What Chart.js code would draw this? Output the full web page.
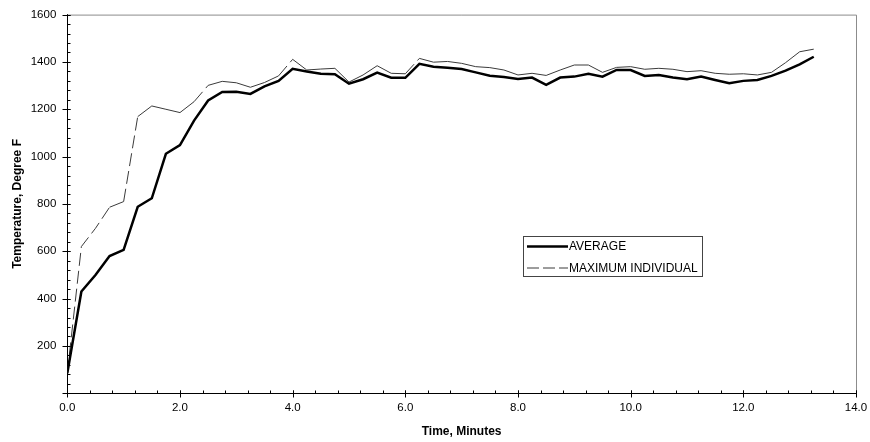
<!DOCTYPE html>
<html lang="en">
<head>
<meta charset="UTF-8">
<title>Temperature vs Time</title>
<script src="https://cdn.jsdelivr.net/npm/chart.js@4.4.1/dist/chart.umd.min.js"></script>
<style>
  html, body { margin: 0; padding: 0; background: #fff; }
  .wrap { width: 870px; height: 442px; position: relative; }
</style>
</head>
<body>
<div class="wrap"><canvas id="tempChart"></canvas></div>
<script>
//#region Data
const tempos = [0, 0.25, 0.5, 0.75, 1, 1.25, 1.5, 1.75, 2, 2.25, 2.5, 2.75, 3, 3.25, 3.5, 3.75,
  4, 4.25, 4.5, 4.75, 5, 5.25, 5.5, 5.75, 6, 6.25, 6.5, 6.75, 7, 7.25, 7.5, 7.75,
  8, 8.25, 8.5, 8.75, 9, 9.25, 9.5, 9.75, 10, 10.25, 10.5, 10.75, 11, 11.25, 11.5, 11.75,
  12, 12.25, 12.5, 12.75, 13, 13.25];

const media = [85, 430, 500, 580, 606, 788, 824, 1012, 1049, 1152, 1237, 1273, 1274, 1265, 1297, 1320,
  1371, 1360, 1350, 1348, 1308, 1327, 1355, 1333, 1333, 1392, 1380, 1375, 1370, 1356, 1342, 1336,
  1328, 1334, 1303, 1334, 1338, 1350, 1338, 1366, 1366, 1341, 1345, 1334, 1327, 1338, 1324, 1310,
  1320, 1324, 1341, 1363, 1390, 1422];

const maximo = [85, 620, 697, 786, 810, 1169, 1214, 1200, 1186, 1232, 1301, 1318, 1312, 1293, 1313, 1341,
  1411, 1366, 1370, 1373, 1315, 1345, 1384, 1352, 1350, 1415, 1399, 1402, 1394, 1380, 1376, 1366,
  1345, 1352, 1343, 1366, 1387, 1387, 1356, 1377, 1380, 1369, 1373, 1369, 1359, 1363, 1352, 1348,
  1350, 1345, 1356, 1397, 1443, 1454];

const xTicks = [0, 2, 4, 6, 8, 10, 12, 14];
const yTicks = [0, 200, 400, 600, 800, 1000, 1200, 1400, 1600];
const xMinor = 0.4;
const yMinor = 40;
const rotulos = ['AVERAGE', 'MAXIMUM INDIVIDUAL'];
//#endregion

Chart.defaults.font.family = '"Liberation Sans", Arial, sans-serif';
Chart.defaults.font.size = 12;
Chart.defaults.color = '#000';

//#region Moldura, marcas dos eixos e legenda
const moldura = {
  id: 'moldura',
  afterDraw(chart) {
    const { ctx, chartArea: a, scales: { x, y } } = chart;
    ctx.save();

    // borda de cima e da direita (cinza)
    ctx.strokeStyle = '#8c8c8c';
    ctx.lineWidth = 1;
    ctx.beginPath();
    ctx.moveTo(a.left, a.top + 0.5);
    ctx.lineTo(a.right + 0.5, a.top + 0.5);
    ctx.lineTo(a.right + 0.5, a.bottom);
    ctx.stroke();

    ctx.strokeStyle = '#000';
    ctx.beginPath();
    const bx = Math.round(a.bottom) + 0.5;
    const lx = Math.round(a.left) + 0.5;
    for (let i = 0; i * xMinor <= x.max + 1e-6; i++) {
      const px = Math.round(x.getPixelForValue(i * xMinor)) + 0.5;
      ctx.moveTo(px, bx - 3);
      ctx.lineTo(px, bx);
    }
    xTicks.forEach(v => {
      const px = Math.round(x.getPixelForValue(v)) + 0.5;
      ctx.moveTo(px, bx - 3);
      ctx.lineTo(px, bx + 4);
    });
    for (let i = 0; i * yMinor <= y.max + 1e-6; i++) {
      const py = Math.round(y.getPixelForValue(i * yMinor)) + 0.5;
      ctx.moveTo(lx, py);
      ctx.lineTo(lx + 3, py);
    }
    yTicks.forEach(v => {
      const py = Math.round(y.getPixelForValue(v)) + 0.5;
      ctx.moveTo(lx - 5, py);
      ctx.lineTo(lx + 3, py);
    });
    ctx.stroke();

    // legenda
    const lx0 = 523, ly0 = 236, lw = 179, lh = 40;
    ctx.fillStyle = '#fff';
    ctx.fillRect(lx0, ly0, lw, lh);
    ctx.strokeStyle = '#444';
    ctx.strokeRect(lx0 + 0.5, ly0 + 0.5, lw, lh);
    ctx.font = '12px "Liberation Sans", Arial, sans-serif';
    ctx.textBaseline = 'middle';
    ctx.fillStyle = '#000';
    chart.data.datasets.forEach((ds, i) => {
      const yy = ly0 + 10.5 + i * 21.5;
      ctx.strokeStyle = ds.borderColor;
      ctx.lineWidth = ds.borderWidth;
      ctx.setLineDash(i === 1 ? [12, 4] : []);
      ctx.beginPath();
      ctx.moveTo(527, yy);
      ctx.lineTo(568, yy);
      ctx.stroke();
      ctx.fillText(ds.label, 569, yy + 0.5);
    });
    ctx.restore();
  }
};
//#endregion

const ctx = document.getElementById('tempChart').getContext('2d');

new Chart(ctx, {
  type: 'line',
  data: {
    datasets: [{
      label: rotulos[0],
      data: tempos.map((t, i) => ({ x: t, y: media[i] })),
      borderColor: '#000',
      borderWidth: 2.5,
      pointRadius: 0,
      tension: 0,
      fill: false
    }, {
      label: rotulos[1],
      data: tempos.map((t, i) => ({ x: t, y: maximo[i] })),
      borderColor: '#3a3a3a',
      borderWidth: 1,
      pointRadius: 0,
      tension: 0,
      fill: false,
      segment: {
        // tracejado so aparece nos trechos longos, como no original
        borderDash: c => Math.hypot(c.p1.x - c.p0.x, c.p1.y - c.p0.y) > 20 ? [13, 5] : undefined
      }
    }]
  },
  options: {
    responsive: true,
    maintainAspectRatio: false,
    animation: false,
    layout: { padding: { top: 14.6, right: 14, left: 0, bottom: 0 } },
    plugins: {
      legend: { display: false },
      tooltip: { enabled: false }
    },
    scales: {
      x: {
        type: 'linear',
        min: 0,
        max: 14,
        afterBuildTicks: s => { s.ticks = xTicks.map(v => ({ value: v })); },
        afterFit: s => {
          s.height = 48.7;
          s.paddingLeft = 0;
          s.paddingRight = 0;
        },
        ticks: {
          callback: v => v.toFixed(1),
          font: { size: 11.5 },
          padding: 8,
          maxRotation: 0,
          autoSkip: false
        },
        grid: { display: true, drawOnChartArea: false, drawTicks: false },
        border: { display: true, color: '#000', width: 1 },
        title: {
          display: true,
          text: 'Time, Minutes',
          font: { size: 12, weight: 'bold' },
          padding: { top: 0, bottom: 3 }
        }
      },
      y: {
        min: 0,
        max: 1600,
        afterBuildTicks: s => { s.ticks = yTicks.map(v => ({ value: v })); },
        afterFit: s => {
          s.width = 67.3;
          s.paddingTop = 0;
          s.paddingBottom = 0;
        },
        ticks: {
          callback: v => (v === 0 ? '' : v),
          font: { size: 11.5 },
          padding: 11
        },
        grid: { display: true, drawOnChartArea: false, drawTicks: false },
        border: { display: true, color: '#000', width: 1 },
        title: {
          display: true,
          text: 'Temperature, Degree F',
          font: { size: 12, weight: 'bold' },
          padding: { top: 10, bottom: 0 }
        }
      }
    }
  },
  plugins: [moldura]
});
</script>
</body>
</html>
